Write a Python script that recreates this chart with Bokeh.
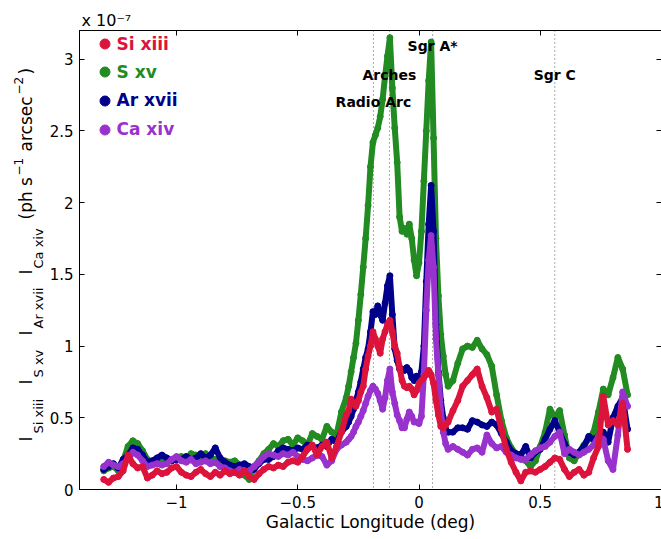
from bokeh.plotting import figure
from bokeh.layouts import row
from bokeh.models import (Range1d, LinearAxis, FixedTicker, Span, Label, Legend, LegendItem,
                          Title, CustomLabelingPolicy)
from bokeh.embed import file_html
from bokeh.resources import INLINE

# ---------------- data (intensity in units of 1e-7 ph s^-1 arcsec^-2) ----------------
lon = [-1.30, -1.28, -1.26, -1.24, -1.22, -1.20, -1.18, -1.16, -1.14, -1.12,
       -1.10, -1.08, -1.06, -1.04, -1.02, -1.00, -0.98, -0.96, -0.94, -0.92,
       -0.90, -0.88, -0.86, -0.84, -0.82, -0.80, -0.78, -0.76, -0.74, -0.72,
       -0.70, -0.68, -0.66, -0.64, -0.62, -0.60, -0.58, -0.56, -0.54, -0.52,
       -0.50, -0.48, -0.46, -0.44, -0.42, -0.40, -0.38, -0.36, -0.34, -0.32,
       -0.30, -0.29, -0.28, -0.27, -0.26, -0.25, -0.24, -0.23, -0.22, -0.21,
       -0.20, -0.19, -0.18, -0.17, -0.16, -0.15, -0.14, -0.13, -0.12, -0.11,
       -0.10, -0.09, -0.08, -0.07, -0.06, -0.05, -0.04, -0.03, -0.02, -0.01,
       0.00, 0.01, 0.02, 0.03, 0.04, 0.05, 0.06, 0.07, 0.08, 0.09,
       0.10, 0.11, 0.12,
       0.14, 0.16, 0.18, 0.20, 0.22, 0.24, 0.26, 0.28, 0.30, 0.32,
       0.34, 0.36, 0.38, 0.40, 0.42, 0.44, 0.46, 0.48, 0.50, 0.52,
       0.54, 0.56, 0.58, 0.60, 0.62, 0.64, 0.66, 0.68, 0.70, 0.72,
       0.74, 0.76, 0.78, 0.80, 0.82, 0.84, 0.86]

s_xv = [0.13, 0.15, 0.16, 0.13, 0.20, 0.30, 0.34, 0.32, 0.27, 0.21,
        0.19, 0.20, 0.19, 0.21, 0.20, 0.22, 0.23, 0.21, 0.25, 0.24,
        0.21, 0.25, 0.22, 0.21, 0.18, 0.20, 0.19, 0.20, 0.17, 0.10,
        0.07, 0.16, 0.20, 0.25, 0.28, 0.32, 0.30, 0.34, 0.35, 0.31,
        0.36, 0.34, 0.31, 0.39, 0.37, 0.35, 0.44, 0.40, 0.38, 0.54,
        0.64, 0.72, 0.82, 0.92, 1.02, 1.18, 1.36, 1.55, 1.75, 1.98,
        2.25, 2.42, 2.47, 2.52, 2.60, 2.72, 2.88, 3.02, 3.15, 2.80,
        2.52, 2.28, 1.90, 1.80, 1.82, 1.78, 1.85, 1.75, 1.60, 1.49,
        1.58, 1.80, 2.15, 2.50, 2.85, 3.12, 2.45, 1.75, 1.35, 1.08,
        0.93, 0.80, 0.72,
        0.76, 0.88, 0.98, 1.00, 0.99, 1.04, 0.98, 0.94, 0.86, 0.66,
        0.48, 0.36, 0.29, 0.25, 0.22, 0.20, 0.16, 0.20, 0.30, 0.40,
        0.56, 0.50, 0.55, 0.38, 0.22, 0.20, 0.26, 0.31, 0.35, 0.40,
        0.54, 0.70, 0.66, 0.78, 0.92, 0.84, 0.66]

ar_xvii = [0.14, 0.16, 0.18, 0.15, 0.21, 0.24, 0.29, 0.28, 0.24, 0.19,
           0.20, 0.22, 0.24, 0.22, 0.20, 0.21, 0.21, 0.23, 0.21, 0.22,
           0.25, 0.22, 0.24, 0.29, 0.22, 0.19, 0.17, 0.16, 0.17, 0.18,
           0.16, 0.14, 0.18, 0.21, 0.21, 0.23, 0.27, 0.29, 0.28, 0.27,
           0.29, 0.28, 0.31, 0.30, 0.29, 0.31, 0.30, 0.35, 0.33, 0.40,
           0.44, 0.47, 0.51, 0.56, 0.62, 0.68, 0.75, 0.84, 0.92, 0.98,
           1.10, 1.24, 1.22, 1.28, 1.22, 1.18, 1.30, 1.42, 1.49, 1.22,
           0.98, 0.90, 0.84, 0.84, 0.83, 0.85, 0.83, 0.78, 0.76, 0.79,
           0.77, 0.82, 1.00, 1.45, 1.85, 2.12, 1.80, 1.15, 0.82, 0.62,
           0.50, 0.42, 0.40,
           0.40, 0.43, 0.43, 0.42, 0.48, 0.47, 0.45, 0.44, 0.47, 0.45,
           0.39, 0.33, 0.27, 0.25, 0.24, 0.30, 0.22, 0.26, 0.28, 0.35,
           0.42, 0.48, 0.40, 0.32, 0.26, 0.24, 0.26, 0.30, 0.37, 0.35,
           0.37, 0.40, 0.33, 0.50, 0.58, 0.64, 0.42]

ca_xiv = [0.16, 0.19, 0.17, 0.16, 0.18, 0.21, 0.26, 0.24, 0.20, 0.16,
          0.17, 0.18, 0.17, 0.18, 0.21, 0.23, 0.20, 0.19, 0.21, 0.18,
          0.19, 0.20, 0.18, 0.19, 0.16, 0.15, 0.13, 0.12, 0.14, 0.12,
          0.13, 0.16, 0.19, 0.23, 0.25, 0.24, 0.23, 0.25, 0.24, 0.26,
          0.23, 0.21, 0.20, 0.22, 0.24, 0.23, 0.17, 0.20, 0.28, 0.31,
          0.33, 0.35, 0.37, 0.40, 0.44, 0.47, 0.51, 0.55, 0.60, 0.65,
          0.69, 0.72, 0.70, 0.67, 0.62, 0.56, 0.64, 0.76, 0.84, 0.68,
          0.60, 0.52, 0.48, 0.43, 0.43, 0.49, 0.54, 0.51, 0.47, 0.47,
          0.46, 0.51, 0.80, 1.25, 1.60, 1.77, 1.55, 1.05, 0.80, 0.55,
          0.40, 0.32, 0.28,
          0.30, 0.28, 0.26, 0.24, 0.28, 0.29, 0.26, 0.38, 0.32, 0.29,
          0.30, 0.26, 0.24, 0.22, 0.21, 0.21, 0.24, 0.27, 0.29, 0.30,
          0.33, 0.37, 0.40, 0.25, 0.28, 0.26, 0.24, 0.26, 0.28, 0.31,
          0.37, 0.35, 0.20, 0.14, 0.38, 0.68, 0.58]

si_xiii = [0.07, 0.05, 0.08, 0.09, 0.13, 0.24, 0.18, 0.15, 0.16, 0.08,
           0.10, 0.13, 0.11, 0.12, 0.15, 0.16, 0.12, 0.10, 0.09, 0.12,
           0.14, 0.11, 0.09, 0.12, 0.10, 0.13, 0.11, 0.12, 0.10, 0.13,
           0.09, 0.07, 0.11, 0.14, 0.16, 0.15, 0.17, 0.16, 0.19, 0.20,
           0.19, 0.23, 0.28, 0.31, 0.24, 0.30, 0.33, 0.22, 0.30, 0.40,
           0.52, 0.55, 0.63, 0.60, 0.58, 0.62, 0.68, 0.72, 0.84, 0.93,
           1.00, 1.10, 1.05, 1.00, 0.95, 1.05, 1.10, 1.15, 1.18, 1.10,
           1.00, 0.95, 0.85, 0.76, 0.72, 0.71, 0.72, 0.70, 0.66, 0.69,
           0.74, 0.76, 0.78, 0.80, 0.83, 0.80, 0.74, 0.62, 0.52, 0.44,
           0.43, 0.45, 0.47,
           0.55, 0.62, 0.72, 0.76, 0.80, 0.84, 0.72, 0.64, 0.54, 0.56,
           0.42, 0.28, 0.19, 0.12, 0.06, 0.12, 0.13, 0.12, 0.14, 0.16,
           0.19, 0.22, 0.21, 0.14, 0.09, 0.12, 0.14, 0.10, 0.12, 0.22,
           0.30, 0.65, 0.45, 0.48, 0.45, 0.60, 0.28]

series_names = ["Si xiii", "S xv", "Ar xvii", "Ca xiv"]
series_colors = ["#DC143C", "#228B22", "#00008B", "#9932CC"]

x_ticks = [-1, -0.5, 0, 0.5, 1]
x_tick_labels = ["\u22121", "\u22120.5", "0", "0.5", "1"]
y_ticks = [0, 0.5, 1, 1.5, 2, 2.5, 3]
y_tick_labels = ["0", "0.5", "1", "1.5", "2", "2.5", "3"]

source_names = ["Radio Arc", "Arches", "Sgr A*", "Sgr C"]
source_l = [-0.188, -0.122, 0.056, 0.56]
source_label_v = [2.70, 2.89, 3.09, 2.89]

x_title = "Galactic Longitude (deg)"
exponent_text = "x 10\u207b\u2077"

# y-axis title pieces: text, kind (main / subscript / superscript)
ylab_texts = ["I", "Si xiii", "I", "S xv", "I", "Ar xvii", "I", "Ca xiv",
              "(ph s", "\u22121", "arcsec", "\u22122", ")"]
ylab_kind = ["m", "s", "m", "s", "m", "s", "m", "s", "m", "p", "m", "p", "m"]

# ---------------- layout ----------------
FONT = "DejaVu Sans"
W, H = 661, 539
LEFT_W = 46
TOP, BOTTOM = 30, 50
FRAME_W, FRAME_H = 582, 459
X0, X1, Y0, Y1 = -1.4, 1.0, 0.0, 3.2

p = figure(frame_width=FRAME_W, frame_height=FRAME_H,
           x_range=Range1d(X0, X1), y_range=Range1d(Y0, Y1),
           output_backend="svg", toolbar_location=None, title=None,
           min_border_left=77 - LEFT_W, min_border_right=2,
           min_border_top=TOP, min_border_bottom=BOTTOM,
           background_fill_color="white", border_fill_color="white")
p.xgrid.visible = False
p.ygrid.visible = False
p.outline_line_color = "black"
p.outline_line_width = 1

no_labels = CustomLabelingPolicy(code="""
try { for (let i = 0; i < indices.size; i++) { indices.unset(i) } } catch (e) {}
return indices
""")


def style_axis(ax, ticks, labels, show_labels=True):
    ax.ticker = FixedTicker(ticks=ticks)
    ax.major_tick_in = 5
    ax.major_tick_out = 0
    ax.minor_tick_in = 0
    ax.minor_tick_out = 0
    ax.axis_line_color = "black"
    ax.major_tick_line_color = "black"
    if show_labels:
        ax.major_label_overrides = {t: l for t, l in zip(ticks, labels)}
        ax.major_label_text_font = FONT
        ax.major_label_text_font_size = "15px"
        ax.major_label_text_color = "black"
    else:
        ax.major_label_text_font_size = "0px"
        ax.major_label_standoff = 0
        ax.major_label_policy = no_labels


xb = p.below[0]
style_axis(xb, x_ticks, x_tick_labels)
xb.major_label_standoff = 6
xb.axis_label = x_title
xb.axis_label_text_font = FONT
xb.axis_label_text_font_size = "17px"
xb.axis_label_text_font_style = "normal"
xb.axis_label_text_color = "black"
xb.axis_label_standoff = 1

yl = p.left[0]
style_axis(yl, y_ticks, y_tick_labels)
yl.major_label_standoff = 6

xt = LinearAxis()
style_axis(xt, x_ticks, x_tick_labels, show_labels=False)
p.add_layout(xt, "above")
yr = LinearAxis()
style_axis(yr, y_ticks, y_tick_labels, show_labels=False)
p.add_layout(yr, "right")

# exponent of the y scale, above the top-left corner
p.add_layout(Title(text=exponent_text, align="left", offset=2, standoff=1,
                   text_font=FONT, text_font_size="16px", text_font_style="normal",
                   text_color="black"), "above")

# vertical dotted source markers
for l in source_l:
    p.add_layout(Span(location=l, dimension="height", line_color="#555555",
                      line_width=1, line_dash="1 3", level="underlay"))

# data
data = {"Si xiii": si_xiii, "S xv": s_xv, "Ar xvii": ar_xvii, "Ca xiv": ca_xiv}
color_of = dict(zip(series_names, series_colors))
dots = {}
for name in ["S xv", "Ar xvii", "Ca xiv", "Si xiii"]:
    vals = data[name]
    c = color_of[name]
    p.line(lon, vals, line_color=c, line_width=6, line_join="round", line_cap="round")
    dots[name] = p.scatter(lon, vals, size=6, color=c)

# legend: one legend per series so each label takes its series colour
leg_centers = [13.7, 41.7, 70.0, 99.0]
for name, cy in zip(series_names, leg_centers):
    c = color_of[name]
    leg = Legend(items=[LegendItem(label=name, renderers=[dots[name]])],
                 location=(12.5, FRAME_H - cy - 12.5),
                 padding=0, margin=0, border_line_color=None,
                 background_fill_alpha=0, glyph_width=25, glyph_height=25,
                 label_standoff=0, label_height=25,
                 label_text_font=FONT, label_text_font_size="17px",
                 label_text_font_style="bold", label_text_color=c)
    p.add_layout(leg)

# source names
for name, l, v in zip(source_names, source_l, source_label_v):
    p.add_layout(Label(x=l, y=v, text=name, text_align="center", text_baseline="middle",
                       text_font=FONT, text_font_size="14px", text_font_style="bold",
                       text_color="black"))

# ---------------- y-axis title strip (left of the main figure) ----------------
# its frame is aligned with the main frame (rows align frames): screen y 30..489
lf = figure(width=LEFT_W, height=H, x_range=Range1d(0, LEFT_W),
            y_range=Range1d(H - (H - BOTTOM), H - TOP),
            x_axis_type=None, y_axis_type=None, min_border_left=0, min_border_right=0,
            min_border_top=TOP, min_border_bottom=BOTTOM, toolbar_location=None,
            title=None, output_backend="svg", outline_line_color=None,
            background_fill_color="white", border_fill_color="white")
ylab_start = [441, 433, 384, 377, 335, 328, 274, 268, 219, 175, 151, 94, 74]
kind_x = {"m": 25.5, "s": 37.5, "p": 17.5}
kind_size = {"m": "17px", "s": "13px", "p": "12px"}
for t, k, ys in zip(ylab_texts, ylab_kind, ylab_start):
    lf.add_layout(Label(x=kind_x[k], y=H - ys, text=t, angle=1.5707963,
                        text_align="left", text_baseline="alphabetic",
                        text_font=FONT, text_font_size=kind_size[k], text_color="black"))

layout = row(lf, p, spacing=0)
open("out.html", "w").write(file_html(layout, INLINE))
